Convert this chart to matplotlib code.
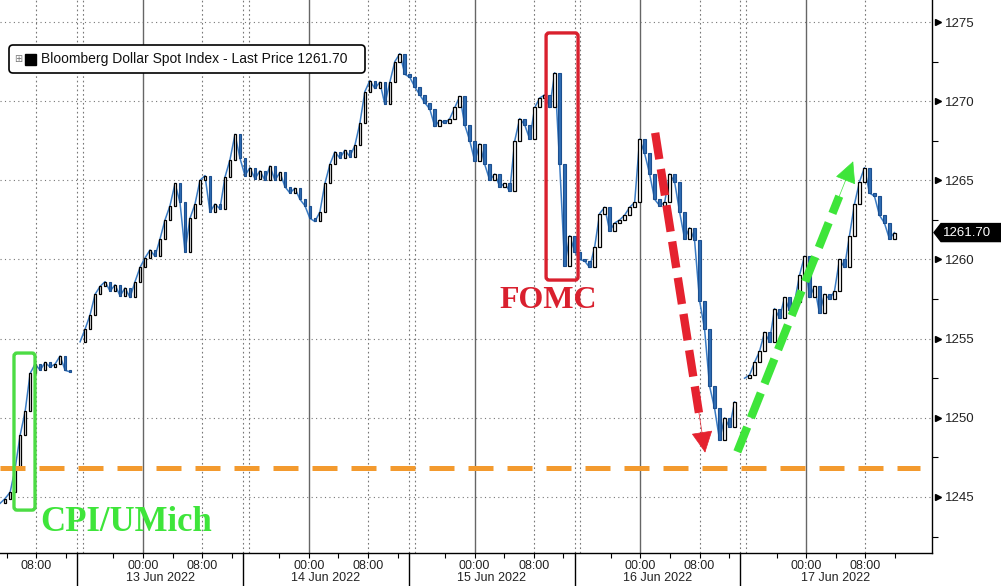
import numpy as np
import matplotlib
matplotlib.use("Agg")
import matplotlib.pyplot as plt
import matplotlib.transforms as mtransforms
from matplotlib.patches import FancyBboxPatch, Polygon

plt.rcParams['font.family'] = ['Liberation Sans', 'DejaVu Sans']

# Bloomberg Dollar Spot Index, one value every ~40 min on the session axis
# (hours from 13 Jun 00:00, weekend / daily breaks compressed)
START_H = -19.3
STEP_H = 0.675
prices = [
    1244.6, 1244.9, 1245.3, 1246.8, 1248.9, 1250.4, 1252.8, 1253.4, 1253.0, 1253.5,
    1253.2, 1253.4, 1253.9, 1253.0, 1252.9, np.nan, 1254.8, 1255.6, 1256.5, 1257.8,
    1258.3, 1258.6, 1258.0, 1258.4, 1257.7, 1258.2, 1257.6, 1258.6, 1259.5, 1260.1,
    1260.6, 1260.2, 1261.3, 1262.5, 1263.4, 1264.8, 1263.6, 1260.5, 1262.6, 1263.5,
    1265.0, 1265.3, 1263.0, 1263.5, 1263.2, 1265.2, 1266.3, 1267.9, 1266.4, 1265.3,
    1265.8, 1265.1, 1265.6, 1265.0, 1265.9, 1265.0, 1265.5, 1264.6, 1264.2, 1264.5,
    1263.8, 1263.4, 1262.6, 1262.4, 1263.0, 1264.8, 1266.0, 1266.8, 1266.4, 1266.9,
    1266.5, 1267.2, 1268.6, 1270.6, 1271.3, 1270.8, 1271.2, 1269.8, 1271.2, 1272.5,
    1273.0, 1271.7, 1271.5, 1270.9, 1270.4, 1269.9, 1269.5, 1268.4, 1268.8, 1268.6,
    1268.9, 1269.6, 1270.3, 1268.5, 1267.5, 1266.2, 1267.3, 1266.0, 1265.0, 1265.4,
    1264.6, 1264.8, 1264.3, 1267.5, 1268.9, 1268.5, 1267.6, 1269.6, 1270.2, 1270.4,
    1269.6, 1271.8, 1266.0, 1259.6, 1261.5, 1260.5, 1260.0, 1259.9, 1259.5, 1260.8,
    1262.9, 1263.3, 1261.8, 1262.3, 1262.5, 1262.8, 1263.3, 1263.6, 1267.6, 1266.7,
    1265.4, 1263.8, 1263.4, 1263.6, 1265.4, 1264.9, 1263.0, 1261.3, 1262.0, 1261.2,
    1257.4, 1255.6, 1252.0, 1250.6, 1248.6, 1250.0, 1249.4, 1251.0, np.nan, 1252.5,
    1252.7, 1253.5, 1254.2, 1255.4, 1254.8, 1256.9, 1256.3, 1257.6, 1256.8, 1257.3,
    1259.0, 1260.2, 1257.6, 1258.3, 1256.6, 1257.8, 1257.5, 1258.0, 1260.0, 1259.5,
    1261.5, 1263.5, 1264.9, 1265.8, 1264.2, 1264.0, 1262.8, 1262.3, 1261.3, 1261.7,
]
last_price = 1261.70

# axis layout (session hours)
DAY = 22.4
day_labels = ['13 Jun 2022', '14 Jun 2022', '15 Jun 2022', '16 Jun 2022', '17 Jun 2022']
sep_offset = -8.9          # session break before each day's 00:00
support_level = 1246.8

# annotations
cpi_box = (-17.43, 1244.17, -14.59, 1254.09)
fomc_box = (54.46, 1258.70, 58.78, 1274.31)
red_arrow = ((69.2, 1268.0), (75.95, 1247.8))
green_arrow = ((80.3, 1247.85), (95.95, 1266.2))

W, H = 1001, 586
fig = plt.figure(figsize=(W / 100, H / 100), dpi=100)
ax = fig.add_axes([0, 33 / H, 932 / W, 553 / H])
ax.set_xlim(-19.32, 106.6)
ax.set_ylim(1241.46, 1276.39)

blue = '#2f6db5'
x = START_H + STEP_H * np.arange(len(prices))
p = np.array(prices)
ax.plot(x, p, color='#3b7cc4', lw=1.1, zorder=2)
for i in range(1, len(p)):
    o, c = p[i - 1], p[i]
    if np.isnan(o) or np.isnan(c):
        continue
    lo, hi = min(o, c), max(o, c)
    h = max(hi - lo, 0.08)
    if c >= o:
        ax.bar(x[i], h, bottom=lo, width=0.36, facecolor='white', edgecolor='black', linewidth=0.9, zorder=3)
    else:
        ax.bar(x[i], h, bottom=lo, width=0.36, facecolor=blue, edgecolor='#1c4f8f', linewidth=0.8, zorder=3)

# grid
ax.set_yticks(np.arange(1245, 1276, 5))
ax.set_yticks(np.arange(1242.5, 1276, 5), minor=True)
for yv in np.arange(1245, 1276, 5):
    ax.axhline(yv, color='#777777', lw=0.8, ls=(0, (1, 3)), zorder=1)

for k in range(-1, 5):
    d0 = k * DAY
    if k >= 0:
        ax.axvline(d0, color='#666666', lw=1.0, zorder=1)
    ax.axvline(d0 + 8, color='#777777', lw=0.8, ls=(0, (1.5, 2.5)), zorder=1)
    if k <= 3:
        s = d0 + DAY + sep_offset
        ax.axvline(s, color='#777777', lw=0.8, ls=(0, (1.5, 2.5)), zorder=1)
        ax.axvline(s + 0.8, color='#777777', lw=0.8, ls=(0, (1.5, 2.5)), zorder=1)

# x ticks
major, labels, minor = [], [], []
for k in range(-1, 5):
    d0 = k * DAY
    if k >= 0:
        major += [d0, d0 + 8]
        labels += ['00:00', '08:00']
    else:
        major += [d0 + 8]
        labels += ['08:00']
    minor += [d0 + 4, d0 + 12, d0 + DAY - 4]
ax.set_xticks(major)
ax.set_xticklabels(labels, fontsize=9, color='#222222')
ax.set_xticks([m for m in minor if m < 106], minor=True)
ax.tick_params(axis='x', which='both', direction='out', length=3.5, width=0.8, pad=1.5)

tb = mtransforms.blended_transform_factory(ax.transData, ax.transAxes)
for k, lab in enumerate(day_labels):
    s0 = k * DAY + sep_offset
    s1 = s0 + DAY
    ax.plot([s0, s0], [0, -0.07], transform=tb, color='black', lw=1, clip_on=False)
    ax.text((s0 + s1) / 2 if k < 4 else k * DAY + 4, -0.0455, lab, transform=tb,
            ha='center', va='center', fontsize=9, color='#222222')

# y axis on right
ax.yaxis.tick_right()
ax.tick_params(axis='y', which='major', length=0, pad=9, labelsize=9.5, labelcolor='#222222')
ax.tick_params(axis='y', which='minor', direction='out', length=4, width=0.8)
tr = mtransforms.blended_transform_factory(ax.transAxes, ax.transData)
ax.plot([1.006] * 7, np.arange(1245, 1276, 5), ls='none', marker='>', ms=5, color='black',
        transform=tr, clip_on=False)

for side in ['top', 'left']:
    ax.spines[side].set_visible(False)
ax.spines['right'].set_linewidth(1)
ax.spines['bottom'].set_linewidth(1)

# support line
ax.plot([-19.32, 105.0], [support_level, support_level], color='#f39a2e', lw=3.6,
        ls=(0, (5, 2.8)), zorder=4, solid_capstyle='butt')

# boxes
x0, y0, x1, y1 = cpi_box
ax.add_patch(FancyBboxPatch((x0, y0), x1 - x0, y1 - y0, boxstyle='round,pad=0,rounding_size=0.4',
                            mutation_aspect=0.5, fill=False, ec='#4cdc44', lw=2.4, zorder=5))
x0, y0, x1, y1 = fomc_box
ax.add_patch(FancyBboxPatch((x0, y0), x1 - x0, y1 - y0, boxstyle='round,pad=0,rounding_size=0.4',
                            mutation_aspect=0.5, fill=False, ec='#d9202e', lw=2.4, zorder=5))

ax.text(-13.9, 1243.4, 'CPI/UMich', color='#3ee53a', fontsize=25, fontweight='bold',
        family='Liberation Serif', ha='left', va='center', zorder=6)
ax.text(54.7, 1257.4, 'FOMC', color='#d9202e', fontsize=23, fontweight='bold',
        family='Liberation Serif', ha='center', va='center', zorder=6)


def dashed_arrow(start, tip, color):
    (sx, sy), (tx, ty) = start, tip
    ax.plot([sx, sx + 0.88 * (tx - sx)], [sy, sy + 0.88 * (ty - sy)], color=color, lw=6,
            ls=(0, (3.2, 1.2)), solid_capstyle='butt', zorder=6)
    bx, by = sx + 0.87 * (tx - sx), sy + 0.87 * (ty - sy)
    ax.annotate('', xy=(tx, ty), xytext=(bx, by),
                arrowprops=dict(arrowstyle='-|>,head_length=1.4,head_width=0.7', color=color,
                                lw=0.5, shrinkA=0, shrinkB=0), zorder=6)


dashed_arrow(*red_arrow, '#e5222f')
dashed_arrow(*green_arrow, '#3ee53a')

# legend
pix = mtransforms.IdentityTransform()
fig.patches.append(FancyBboxPatch((9, H - 73), 356, 28, boxstyle='round,pad=0,rounding_size=4',
                                  transform=pix, fc='white', ec='black', lw=1.2, figure=fig))
fig.text(14 / W, 1 - 59 / H, '⊞', fontsize=7, color='#777777', va='center', family='DejaVu Sans')
fig.patches.append(FancyBboxPatch((25, H - 65), 11, 11, boxstyle='square,pad=0', transform=pix,
                                  fc='black', ec='black', figure=fig))
fig.text(41 / W, 1 - 59 / H, 'Bloomberg Dollar Spot Index - Last Price %.2f' % last_price,
         fontsize=10, color='#111111', va='center')

# last price tag
ty = ax.transData.transform((0, last_price))[1]
fig.patches.append(Polygon([[934, ty], [941, ty + 9], [1001, ty + 9], [1001, ty - 9], [941, ty - 9]],
                           closed=True, transform=pix, fc='black', ec='black', figure=fig))
fig.text(943 / W, ty / H, '%.2f' % last_price, color='white', fontsize=9.5, va='center')

fig.savefig('out.png', dpi=100)
